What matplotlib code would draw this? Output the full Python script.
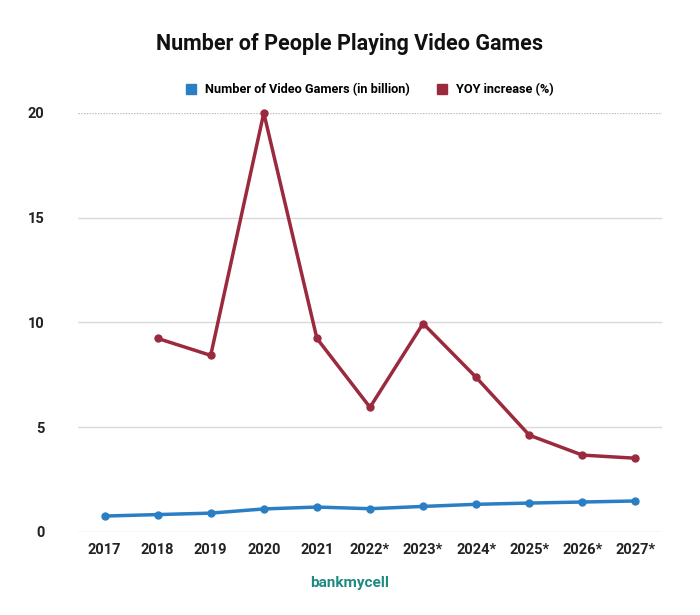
import matplotlib
matplotlib.use("Agg")
import matplotlib.pyplot as plt
import numpy as np

years = ["2017", "2018", "2019", "2020", "2021", "2022*", "2023*", "2024*", "2025*", "2026*", "2027*"]
gamers = [0.76, 0.83, 0.90, 1.10, 1.19, 1.11, 1.22, 1.32, 1.38, 1.43, 1.48]
yoy = [np.nan, 9.24, 8.43, 20.0, 9.24, 5.95, 9.95, 7.38, 4.62, 3.67, 3.52]
yticks = [0, 5, 10, 15, 20]

blue = "#2a7fc4"
red = "#9b2a3e"

plt.rcParams['font.family'] = ['Roboto', 'DejaVu Sans']

fig = plt.figure(figsize=(7, 6.15), dpi=100)
ax = fig.add_axes([0.1114, 0.135, 0.8343, 0.6813])

x = np.arange(len(years))
ax.plot(x, gamers, color=blue, lw=2.5, marker='o', ms=5, zorder=3, clip_on=False)
ax.plot(x, yoy, color=red, lw=2.5, marker='o', ms=5, zorder=3, clip_on=False)

ax.set_xlim(-0.5, len(years) - 0.5)
ax.set_ylim(0, 20)
ax.set_yticks(yticks)
ax.set_yticklabels([str(t) for t in yticks], fontsize=10.5, fontweight='bold', color='#222222')
ax.set_xticks(x)
ax.set_xticklabels(years, fontsize=10.5, fontweight='bold', color='#222222')
ax.tick_params(axis='both', length=0)
ax.tick_params(axis='y', pad=24)
ax.tick_params(axis='x', pad=8)

for t in yticks:
    if t in (0, 20):
        ax.axhline(t, color='#bbbbbb', lw=1, ls=(0, (1, 1)), zorder=1)
    else:
        ax.axhline(t, color='#d9d9d9', lw=1, zorder=1)

for s in ax.spines.values():
    s.set_visible(False)

fig.text(0.5, 0.928, "Number of People Playing Video Games", ha='center', va='center',
         fontsize=15.5, fontweight='bold', color='#111111')

# legend
from matplotlib.lines import Line2D
handles = [Line2D([], [], marker='s', ls='none', color=blue, ms=7),
           Line2D([], [], marker='s', ls='none', color=red, ms=7)]
fig.legend(handles, ["Number of Video Gamers (in billion)", "YOY increase (%)"],
           loc='center', bbox_to_anchor=(0.527, 0.854), ncol=2, frameon=False,
           prop={'family': 'Roboto', 'weight': 'bold', 'size': 9.2},
           handletextpad=0.6, columnspacing=2.0, handlelength=1.0)

# logo text
fig.text(0.5, 0.052, "bankmycell", ha='center', va='center', fontsize=11,
         color='#1f8a80', fontweight='bold')

fig.savefig("out.png", dpi=100)
